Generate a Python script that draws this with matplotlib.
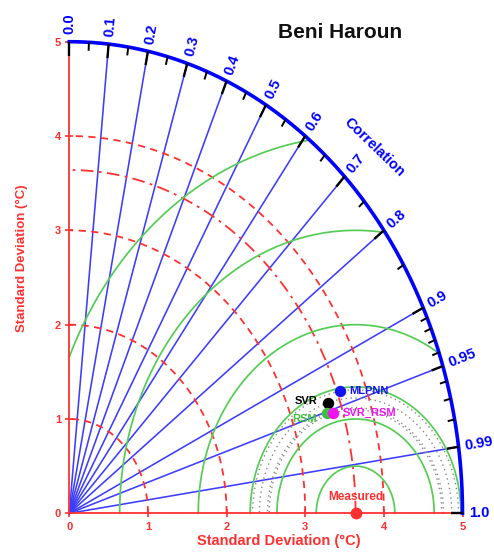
import numpy as np
import matplotlib
matplotlib.use('Agg')
import matplotlib.pyplot as plt

plt.rcParams['font.family'] = ['Liberation Sans', 'DejaVu Sans']

# ---------------- data ----------------
title = 'Beni Haroun'
ref_name = 'Measured'
ref_std = 3.64
model_names = ['MLPNN', 'SVR', 'RSM', 'SVR_RSM']
model_std = [3.674, 3.492, 3.447, 3.519]
model_corr = [0.936, 0.942, 0.9515, 0.9535]
model_colors = ['#1414f0', '#000000', '#3fbf3f', '#f014f0']
std_ticks = [0, 1, 2, 3, 4, 5]
std_arcs = [1, 2, 3, 4]
rms_levels = [0.5, 1.0, 1.34, 2.0, 3.0, 4.0]
corr_major = [0.0, 0.1, 0.2, 0.3, 0.4, 0.5, 0.6, 0.7, 0.8, 0.9, 0.95, 0.99, 1.0]
corr_labels = ['0.0', '0.1', '0.2', '0.3', '0.4', '0.5', '0.6', '0.7', '0.8',
               '0.9', '0.95', '0.99', '1.0']
corr_minor = [0.05, 0.15, 0.25, 0.35, 0.45, 0.55, 0.65, 0.75, 0.85,
              0.91, 0.92, 0.93, 0.94, 0.96, 0.97, 0.98]
corr_lines = [0.1, 0.2, 0.3, 0.4, 0.5, 0.6, 0.7, 0.8, 0.9, 0.95, 0.99]
smax = 5.0

RED = '#ff3030'
BLUE = '#0000ff'
LBLUE = '#3c3cff'
GREEN = '#55cc55'

W, H = 494, 555
fig = plt.figure(figsize=(W / 100, H / 100), dpi=100)
x0p, x1p, y0p, y1p = 69.3, 462.5, 513.3, 41.7
ax = fig.add_axes([x0p / W, 1 - y0p / H, (x1p - x0p) / W, (y0p - y1p) / H])
ax.set_xlim(0, smax)
ax.set_ylim(0, smax)
sx = (x1p - x0p) / smax
sy = (y0p - y1p) / smax

for s in ['top', 'right']:
    ax.spines[s].set_visible(False)
for s in ['left', 'bottom']:
    ax.spines[s].set_color(RED)
    ax.spines[s].set_linewidth(1.3)
ax.set_xticks(std_ticks)
ax.set_yticks(std_ticks)
ax.tick_params(direction='inout', length=6, width=1.2, color=RED,
               labelcolor=RED, labelsize=8, pad=3)
for lab in ax.get_xticklabels() + ax.get_yticklabels():
    lab.set_fontweight('bold')

# correlation radial lines
for c in corr_lines:
    th = np.arccos(c)
    ax.plot([0, smax * np.cos(th)], [0, smax * np.sin(th)], color=LBLUE,
            lw=1.15, zorder=2, clip_on=False)

t = np.linspace(0, np.pi / 2, 400)
# std arcs
for r in std_arcs:
    ax.plot(r * np.cos(t), r * np.sin(t), color=RED, lw=1.3,
            dashes=(4, 3), zorder=2, clip_on=False)
ax.plot(ref_std * np.cos(t), ref_std * np.sin(t), color=RED, lw=1.3,
        dashes=(7, 3, 1.5, 3), zorder=2, clip_on=False)

# RMS contours
tt = np.linspace(0, np.pi, 800)
def rms_arc(r):
    x = ref_std + r * np.cos(tt)
    y = r * np.sin(tt)
    bad = (x ** 2 + y ** 2 > smax ** 2) | (x < 0)
    x = np.where(bad, np.nan, x)
    y = np.where(bad, np.nan, y)
    return x, y

for r in rms_levels:
    x, y = rms_arc(r)
    ax.plot(x, y, color=GREEN, lw=1.25, zorder=2, clip_on=False)

for s, c in zip(model_std, model_corr):
    r = np.sqrt(s ** 2 + ref_std ** 2 - 2 * s * ref_std * c)
    x, y = rms_arc(r)
    ax.plot(x, y, color='#888888', lw=1.0, ls=(0, (1, 2.5)), zorder=2,
            clip_on=False)

# outer arc
ax.plot(smax * np.cos(t), smax * np.sin(t), color=BLUE, lw=2.6, zorder=5,
        clip_on=False)

# arc ticks
for c in corr_major:
    th = np.arccos(c)
    ax.plot([smax * np.cos(th), (smax - 0.15) * np.cos(th)],
            [smax * np.sin(th), (smax - 0.15) * np.sin(th)],
            color='black', lw=1.7, zorder=6, clip_on=False,
            solid_capstyle='butt')
for c in corr_minor:
    th = np.arccos(c)
    ax.plot([smax * np.cos(th), (smax - 0.09) * np.cos(th)],
            [smax * np.sin(th), (smax - 0.09) * np.sin(th)],
            color='black', lw=1.4, zorder=6, clip_on=False,
            solid_capstyle='butt')

# correlation labels
for c, lab in zip(corr_major, corr_labels):
    th = np.arccos(c)
    rot = np.degrees(np.arctan2(np.sin(th) * sy, np.cos(th) * sx))
    rr = smax + 0.08
    ax.text(rr * np.cos(th), rr * np.sin(th), lab, rotation=rot,
            rotation_mode='anchor', ha='left', va='center', color=BLUE,
            fontsize=10.5, fontweight='bold', clip_on=False, zorder=7)

ax.text(3.88, 3.88, 'Correlation', rotation=-44, ha='center', va='center',
        color=BLUE, fontsize=10.5, fontweight='bold', rotation_mode='anchor')

# reference point
ax.plot([ref_std], [0], 'o', color=RED, ms=7.5, zorder=10, clip_on=False)
ax.text(ref_std, 0.17, ref_name, ha='center', va='center', color=RED,
        fontsize=8.5, fontweight='bold', zorder=10)

# model points
label_side = ['right', 'left', 'left', 'right']
label_dy = [0.0, 0.02, -0.06, 0.0]
for name, s, c, col, side, dy in zip(model_names, model_std, model_corr,
                                     model_colors, label_side, label_dy):
    th = np.arccos(c)
    px, py = s * np.cos(th), s * np.sin(th)
    ax.plot([px], [py], 'o', color=col, ms=7.2, zorder=11)
    if side == 'right':
        ax.text(px + 0.12, py + dy, name, ha='left', va='center', color=col,
                fontsize=8, fontweight='bold', zorder=12)
    else:
        ax.text(px - 0.13, py + dy, name, ha='right', va='center', color=col,
                fontsize=8, fontweight='bold', zorder=9)

ax.set_xlabel('Standard Deviation (°C)', color=RED, fontsize=10.5,
              fontweight='bold')
ax.xaxis.set_label_coords(2.67 / smax, -0.043)
ax.set_ylabel('Standard Deviation (°C)', color=RED, fontsize=9.5,
              fontweight='bold')
ax.yaxis.set_label_coords(-0.105, 0.542)

fig.text(340 / W, 1 - 33 / H, title, ha='center', va='center', fontsize=15,
         fontweight='bold', color='#111111')

fig.savefig('out.png', dpi=100)
